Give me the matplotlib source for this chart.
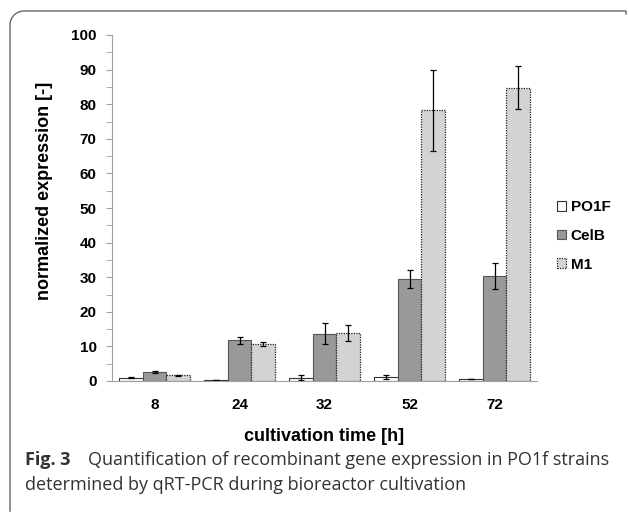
import matplotlib.pyplot as plt
import numpy as np
from matplotlib.patches import Patch
from matplotlib.lines import Line2D

# data
times = ['8', '24', '32', '52', '72']
po1f = [1.0, 0.2, 1.0, 1.2, 0.6]
po1f_err = [0.2, 0.05, 0.7, 0.6, 0.1]
celb = [2.5, 11.8, 13.7, 29.5, 30.3]
celb_err = [0.3, 1.0, 3.0, 2.5, 3.8]
m1 = [1.6, 10.7, 14.0, 78.2, 84.8]
m1_err = [0.2, 0.7, 2.3, 11.8, 6.2]

W, H = 629, 515
fig = plt.figure(figsize=(W / 100, H / 100), dpi=100)
ax = fig.add_axes([112 / W, 1 - 381 / H, (537 - 112) / W, (381 - 35) / H])

x = np.arange(len(times))
w = 0.28
eb = dict(ecolor='black', elinewidth=0.9, capsize=2.5, capthick=0.9)

ax.bar(x - w, po1f, w, yerr=po1f_err, color='white', edgecolor='#333333',
       linewidth=0.8, error_kw=eb, zorder=2)
ax.bar(x, celb, w, yerr=celb_err, color='#999999', edgecolor='#555555',
       linewidth=0.8, error_kw=eb, zorder=2)
ax.bar(x + w, m1, w, yerr=m1_err, color='#d2d3d3', edgecolor='#222222',
       linewidth=0.9, linestyle=(0, (1, 1)), error_kw=eb, zorder=2)

ax.set_xlim(-0.5, len(times) - 0.5)
ax.set_ylim(0, 100)
ax.set_yticks(np.arange(0, 101, 10))
ax.set_yticks(np.arange(0, 101, 5), minor=True)
ax.set_xticks(x)
ax.set_xticklabels(times)

for s in ['top', 'right']:
    ax.spines[s].set_visible(False)
ax.spines['left'].set_color('#a0a0a0')
ax.spines['bottom'].set_color('#a0a0a0')
ax.tick_params(axis='y', which='both', direction='out', color='#a0a0a0',
               length=4, labelsize=11, pad=7)
ax.tick_params(axis='x', length=0, labelsize=11, pad=12)
for lab in ax.get_xticklabels() + ax.get_yticklabels():
    lab.set_fontweight('bold')
    lab.set_family('Liberation Sans')

ax.set_ylabel('normalized expression [-]', fontsize=13, fontweight='bold',
              family='Liberation Sans')
ax.yaxis.set_label_coords((53 - 112) / (537 - 112), (381 - 191) / 346)
ax.set_xlabel('cultivation time [h]', fontsize=13, fontweight='bold',
              family='Liberation Sans', labelpad=12)

handles = [
    Patch(facecolor='white', edgecolor='#333333', linewidth=0.8),
    Patch(facecolor='#999999', edgecolor='#555555', linewidth=0.8),
    Patch(facecolor='#d2d3d3', edgecolor='#222222', linewidth=0.9, linestyle=(0, (1, 1))),
]
fig.legend(handles, ['PO1F', 'CelB', 'M1'], loc='center left',
           bbox_to_anchor=(543 / W, 1 - 236 / H), frameon=False,
           handlelength=0.6, handleheight=0.6, handletextpad=0.3,
           labelspacing=0.95, prop={'family': 'Liberation Sans', 'weight': 'bold', 'size': 11})

# caption
fig.text(25 / W, 1 - 460 / H, 'Fig. 3', fontsize=13, fontweight='bold',
         family='Open Sans', color='#333333', va='center')
fig.text(88 / W, 1 - 460 / H, 'Quantification of recombinant gene expression in PO1f strains',
         fontsize=13, family='Open Sans', color='#333333', va='center')
fig.text(25 / W, 1 - 485 / H, 'determined by qRT-PCR during bioreactor cultivation',
         fontsize=13, family='Open Sans', color='#333333', va='center')

# frame: rounded top-left corner, left and top edges
r = 14
t = np.linspace(np.pi / 2, np.pi, 20)
cx, cy = 10 + r, 11 + r
xs = [10, 10] + list(cx + r * np.cos(t[::-1])) + [626, 626]
ys = [511, cy] + list(cy - r * np.sin(t[::-1])) + [11, 14]
fig.add_artist(Line2D(np.array(xs) / W, 1 - np.array(ys) / H, color='#666666',
                      linewidth=1.0, transform=fig.transFigure))

fig.savefig('out.png', dpi=100)
